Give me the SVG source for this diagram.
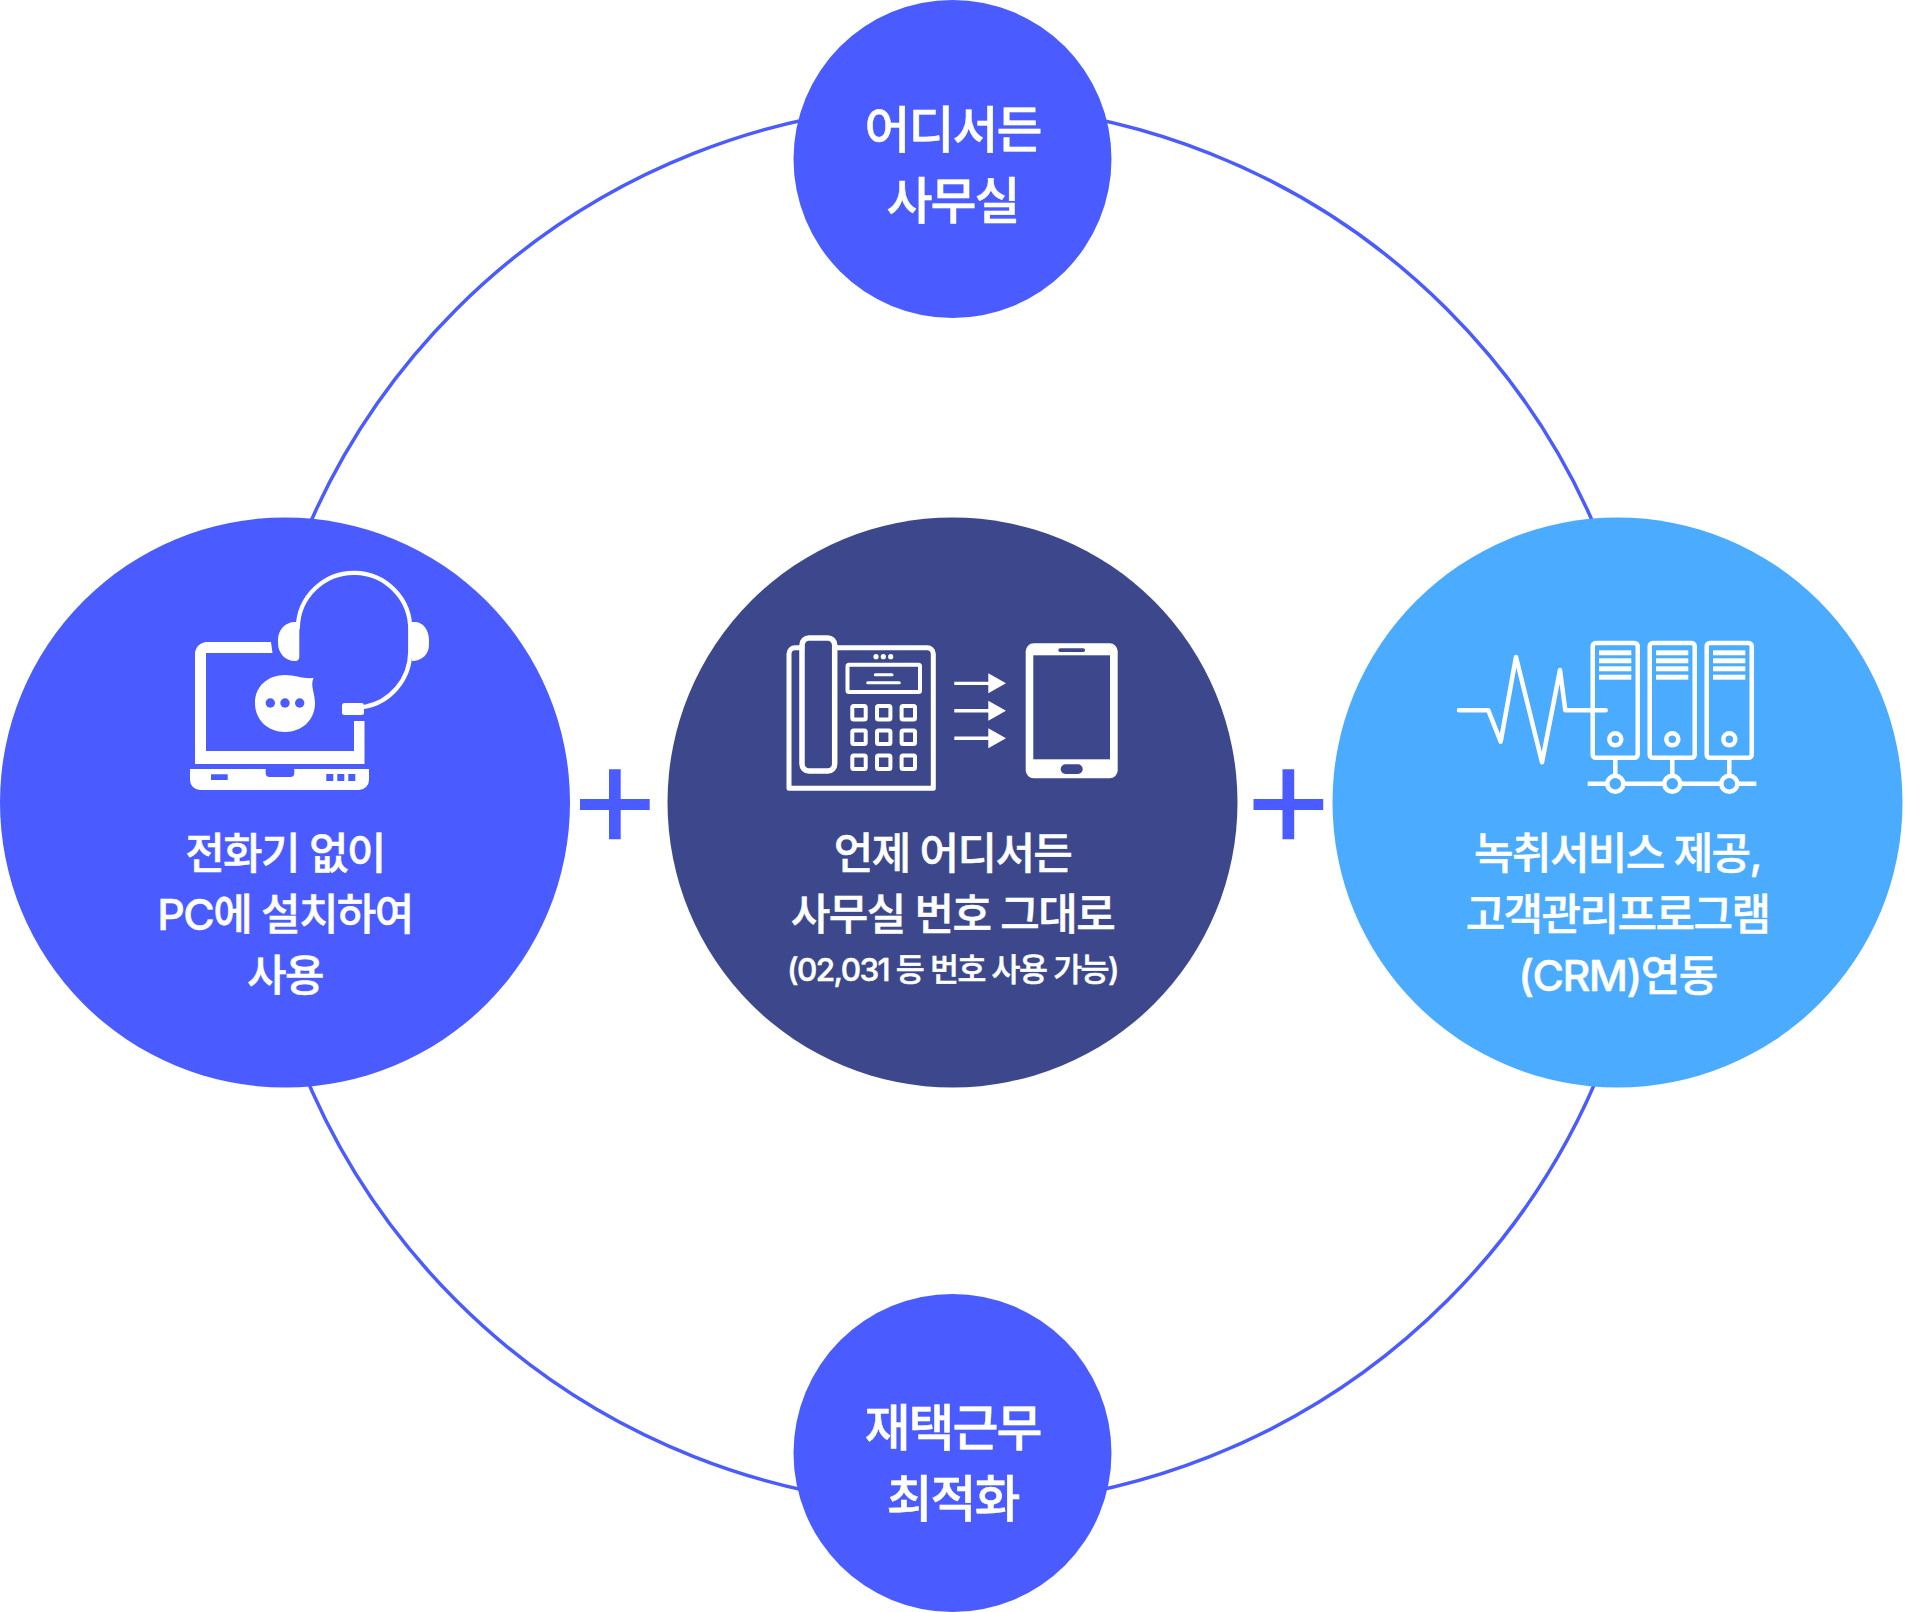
<svg xmlns="http://www.w3.org/2000/svg" width="1906" height="1612" viewBox="0 0 1906 1612">
<style>
text{font-family:Inter,"Noto Sans CJK KR","Noto Sans",sans-serif;font-weight:500;fill:#fff;stroke:#fff;stroke-width:.5;text-anchor:middle}
.lg{font-size:50px;letter-spacing:-2px}
.md{font-size:43px;letter-spacing:-1.6px}
.sm{font-size:31.500px;letter-spacing:-1.600px}
.blue{fill:#4a5cff}
.w{fill:#fff}
.ln{fill:none;stroke:#fff;stroke-linejoin:round;stroke-linecap:round}
</style>
<defs>
<g id="key"><rect x="-6.7" y="-6.7" width="13.4" height="13.4" rx="1.5" class="ln" stroke-width="4"/></g>
<g id="srv">
<rect x="1592.7" y="643" width="45" height="114.7" rx="3" class="ln" stroke-width="4.5"/>
<rect x="1599" y="650.3" width="32.3" height="5" class="w"/><rect x="1599" y="658.3" width="32.3" height="5" class="w"/><rect x="1599" y="666.3" width="32.3" height="5" class="w"/><rect x="1599" y="674.7" width="32.3" height="5" class="w"/>
<circle cx="1615.3" cy="739.3" r="6" class="ln" stroke-width="4.5"/>
<path d="M1615.3 758V775" class="ln" stroke-width="4.5"/>
<circle cx="1615.3" cy="783.7" r="8" fill="#4aabff" stroke="#fff" stroke-width="4.5"/>
</g>
</defs>
<g id="connectors">
<circle cx="951.700" cy="805" r="700.800" fill="none" stroke="#4a5cff" stroke-width="3.500"/>
</g>
<g id="node-top"><circle cx="952.500" cy="159" r="159" class="blue"/>
<text x="952.500" y="148" class="lg">어디서든</text><text x="952.500" y="219" class="lg">사무실</text></g>
<g id="node-bottom"><circle cx="952.500" cy="1453" r="159" class="blue"/>
<text x="952.500" y="1446" class="lg">재택근무</text><text x="952.500" y="1517" class="lg">최적화</text></g>
<g id="node-left"><circle cx="285" cy="802.500" r="285" class="blue"/>
<path class="w" d="M271 642H207a12 12 0 0 0-12 12V764H364.500V721H354V751H206V653H272.500Z"/>
<path class="w" d="M190 769H265.700V773a4 4 0 0 0 4 4H290.300a4 4 0 0 0 4-4V769H369V780a10 10 0 0 1-10 10H200a10 10 0 0 1-10-10Z"/>
<path class="blue" d="M211 774.300H227.700V780H211ZM326.300 774H333.300V781H326.300ZM337.300 774H344.300V781H337.300ZM348.300 774H355.300V781H348.300Z"/>
<path class="ln" stroke-width="4.200" d="M297.800 628A56.200 56.200 0 0 1 410.200 630V652A56.200 56.200 0 0 1 364 707"/>
<path class="w" d="M299.300 622H295C285 622 278 630 278 640V643C278 653 285 661 295 661H295.500C298 661 299.300 659 299.300 657ZM412 622H415C423 622 429 630 429 640V645C429 654 422 661 412 661Z"/>
<rect x="342" y="703" width="22" height="12" rx="2.500" class="w"/>
<path class="w" d="M285 675C295 675 303 679 313.500 678C310 686 315 693 315 703C315 720 302 732 285 732S255 720 255 703S268 675 285 675Z"/>
<g class="blue"><circle cx="270.300" cy="703" r="4.700"/><circle cx="285" cy="703" r="4.700"/><circle cx="299.700" cy="703" r="4.700"/></g>
<text x="285" y="869" class="md">전화기 없이</text><text x="285" y="930" class="md">PC에 설치하여</text><text x="285" y="991" class="md">사용</text></g>
<g id="node-center"><circle cx="952.500" cy="802.500" r="285" fill="#3d488c"/>
<path class="ln" stroke-width="5" d="M802 647.700H795a6 6 0 0 0-6 6V788.300H933.300V653.700a6 6 0 0 0-6-6H834.700"/>
<rect x="802" y="638" width="32.700" height="133" rx="7" class="ln" stroke-width="5.500"/>
<g class="w"><circle cx="876" cy="656.700" r="2.600"/><circle cx="883.300" cy="656.700" r="2.600"/><circle cx="890.700" cy="656.700" r="2.600"/></g>
<rect x="847.500" y="664.700" width="72.500" height="27.300" rx="1.500" class="ln" stroke-width="4"/>
<path class="ln" stroke-width="3" d="M875.300 674.700H892M867.700 682.700H899.300"/>
<use href="#key" x="859" y="712.700"/><use href="#key" x="883.700" y="712.700"/><use href="#key" x="908.300" y="712.700"/>
<use href="#key" x="859" y="737.300"/><use href="#key" x="883.700" y="737.300"/><use href="#key" x="908.300" y="737.300"/>
<use href="#key" x="859" y="762.300"/><use href="#key" x="883.700" y="762.300"/><use href="#key" x="908.300" y="762.300"/>
<g class="w"><path d="M954.300 681.700H988.300V673.300L1006 683.300L988.300 693.300V685H954.300Z"/><path d="M954.300 709H988.300V700.700L1006 710.700L988.300 720.700V712.400H954.300Z"/><path d="M954.300 736.600H988.300V728.300L1006 738.300L988.300 748.300V740H954.300Z"/></g>
<rect x="1025.700" y="643.300" width="92" height="135" rx="8" class="w"/>
<rect x="1033.300" y="655.300" width="76.700" height="104" fill="#3d488c"/>
<rect x="1058.300" y="648.300" width="26.700" height="3.700" rx="1.800" fill="#3d488c"/>
<rect x="1060.700" y="764.300" width="22" height="9.700" rx="4.800" fill="#3d488c"/>
<text x="952.500" y="869" class="md">언제 어디서든</text><text x="952.500" y="930" class="md">사무실 번호 그대로</text><text x="952.500" y="981" class="sm">(02,031 등 번호 사용 가능)</text></g>
<g id="node-right"><circle cx="1617.500" cy="802.500" r="285" fill="#4aabff"/>
<path fill="none" stroke="#fff" stroke-width="4.500" d="M1587.700 783.700H1756.300"/>
<use href="#srv"/><use href="#srv" x="57"/><use href="#srv" x="114"/>
<path class="ln" stroke-width="4.500" d="M1459 710.300H1488.300L1500.700 741.700L1516 657L1542 762.300L1560 670L1565.300 710.300H1605.700"/>
<text x="1617.500" y="869" class="md">녹취서비스 제공,</text><text x="1617.500" y="930" class="md">고객관리프로그램</text><text x="1617.500" y="991" class="md">(CRM)연동</text></g>
<g id="plus-left"><path class="blue" d="M609 769.300H620.700V799H649.700V810H620.700V839.300H609V810H580V799H609Z"/></g>
<g id="plus-right"><path class="blue" d="M1282.500 769.300H1294.200V799H1323.200V810H1294.200V839.300H1282.500V810H1253.500V799H1282.500Z"/></g>
</svg>
